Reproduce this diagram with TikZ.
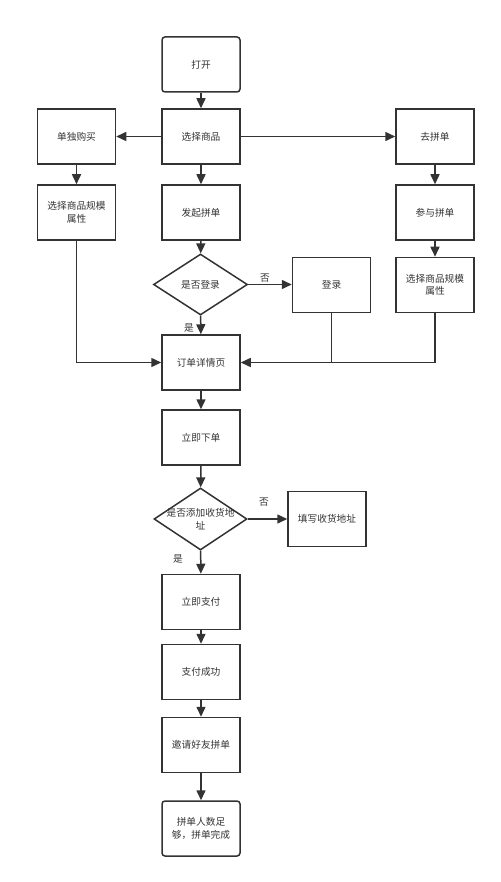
\documentclass[tikz,border=0pt]{standalone}
\usepackage{fontspec}
\newfontfamily\cjk{Noto Sans CJK SC}
\usetikzlibrary{arrows.meta,shapes.geometric}
\definecolor{ln}{HTML}{333333}
\definecolor{tx}{HTML}{333333}
\tikzset{
  box/.style={draw=ln,line width=1.5pt,minimum width=78pt,minimum height=55pt,inner sep=0pt,align=center,text=tx,font=\cjk\fontsize{9.7}{12.5}\selectfont},
  rbox/.style={box,rounded corners=3pt},
  dia/.style={draw=ln,line width=1.5pt,shape=diamond,minimum width=94pt,minimum height=61pt,inner sep=0pt},
  txt/.style={text=tx,align=center,inner sep=0pt,font=\cjk\fontsize{9.7}{12.5}\selectfont},
  arr/.style={draw=ln,line width=1.5pt,-{Triangle[length=10pt,width=9pt]}},
  ln/.style={draw=ln,line width=1.5pt},
}
\begin{document}
\begin{tikzpicture}[x=1pt,y=-1pt]
\useasboundingbox (0,0) rectangle (500,882);
\node[rbox] (open) at (201,64.5) {打开};
\node[box] (sel) at (201,136.5) {选择商品};
\node[box] (single) at (76.5,136.5) {单独购买};
\node[box] (go) at (435,136.5) {去拼单};
\node[box] (attrL) at (76.5,212.5) {选择商品规模\\属性};
\node[box] (start) at (201,212.5) {发起拼单};
\node[box] (join) at (435,212.5) {参与拼单};
\node[dia] (d1) at (200.5,284.5) {};
\node[txt] (d1t) at (d1.center) {是否登录};
\node[box] (login) at (331.5,285) {登录};
\node[box] (attrR) at (435,285) {选择商品规模\\属性};
\node[box] (detail) at (201,362.5) {订单详情页};
\node[box] (order) at (201,437.5) {立即下单};
\node[dia,minimum width=93pt,minimum height=62pt] (d2) at (200.5,519) {};
\node[txt] (d2t) at (d2.center) {是否添加收货地\\址};
\node[box] (addr) at (327,519) {填写收货地址};
\node[box] (pay) at (201,602) {立即支付};
\node[box] (paid) at (201,672) {支付成功};
\node[box] (invite) at (201,745) {邀请好友拼单};
\node[rbox] (done) at (201,828.5) {拼单人数足\\够，拼单完成};
\node[txt] (no1) at (265,278) {否};
\node[txt] (yes1) at (189,328) {是};
\node[txt] (no2) at (264,502) {否};
\node[txt] (yes2) at (178,559) {是};
\draw[arr] (open) -- (sel);
\draw[arr] (sel) -- (single);
\draw[arr] (sel) -- (go);
\draw[arr] (sel) -- (start);
\draw[arr] (single) -- (attrL);
\draw[arr] (go) -- (join);
\draw[arr] (join) -- (attrR);
\draw[arr] (start) -- (d1);
\draw[arr] (d1.east) -- (d1.east -| login.west);
\draw[arr] (d1) -- (detail);
\draw[arr] (attrL.south) |- (detail.west);
\draw[arr] (attrR.south) |- (detail.east);
\draw[ln] (login.south) -- (login.south |- detail.east);
\draw[arr] (detail) -- (order);
\draw[arr] (order) -- (d2);
\draw[arr] (d2.east) -- (d2.east -| addr.west);
\draw[arr] (d2) -- (pay);
\draw[arr] (pay) -- (paid);
\draw[arr] (paid) -- (invite);
\draw[arr] (invite) -- (done);
\end{tikzpicture}
\end{document}
